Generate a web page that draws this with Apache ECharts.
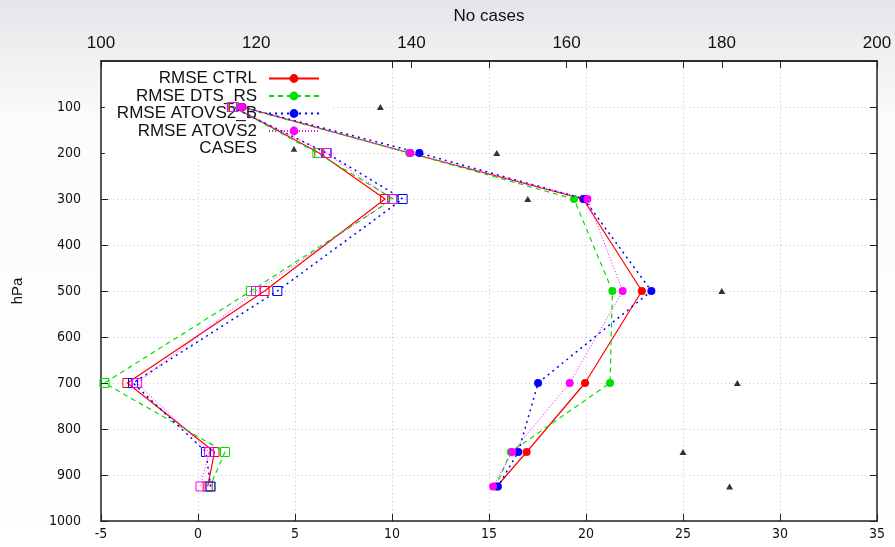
<!DOCTYPE html>
<html>
<head>
<meta charset="utf-8">
<title>RMSE / bias profiles</title>
<script src="https://cdn.jsdelivr.net/npm/echarts@6/dist/echarts.min.js"></script>
<style>
  html, body { margin: 0; padding: 0; }
  #chart { width: 895px; height: 547px; }
</style>
</head>
<body>
<div id="chart"></div>
<script>
// Pressure levels (hPa)
const levels = [100, 200, 300, 500, 700, 850, 925];

// RMSE per experiment
const rmseCtrl   = [2.3, 10.9, 19.85, 22.88, 19.95, 16.94, 15.4];
const rmseDts    = [2.2, 10.9, 19.38, 21.36, 21.24, 16.12, 15.35];
const rmseAtovsB = [2.25, 11.41, 19.9, 23.37, 17.53, 16.51, 15.46];
const rmseAtovs2 = [2.25, 10.95, 20.07, 21.89, 19.16, 16.2, 15.21];

// Bias per experiment
const biasCtrl   = [1.85, 6.25, 9.64, 3.43, -3.64, 0.85, 0.5];
const biasDts    = [1.8, 6.15, 10.07, 2.73, -4.82, 1.39, 0.62];
const biasAtovsB = [1.75, 6.63, 10.55, 4.09, -3.35, 0.41, 0.65];
const biasAtovs2 = [1.75, 6.6, 10.0, 2.99, -3.14, 0.57, 0.13];

// Number of cases per level (top axis)
const cases = [136, 151, 155, 180, 182, 175, 181];

const seriesNames = ['RMSE CTRL', 'RMSE DTS_RS', 'RMSE ATOVS2_B', 'RMSE ATOVS2'];
const casesName = 'CASES';

const pairs = (vals) => levels.map((p, i) => [vals[i], p]);

const narrow = "'Liberation Sans Narrow', 'DejaVu Sans Condensed', 'Liberation Sans', sans-serif";
const normal = "'Liberation Sans', Arial, sans-serif";

const styles = [
  { color: '#ff0000', type: 'solid', width: 1.2 },
  { color: '#00e000', type: [5, 4], width: 1.2 },
  { color: '#0000ff', type: [2, 4], width: 1.5 },
  { color: '#ff00ff', type: [1, 2], width: 1 }
];
const rmseSets = [rmseCtrl, rmseDts, rmseAtovsB, rmseAtovs2];
const biasSets = [biasCtrl, biasDts, biasAtovsB, biasAtovs2];

const series = [];
seriesNames.forEach((name, k) => {
  const st = styles[k];
  series.push({
    name: name,
    type: 'line',
    xAxisIndex: 0, yAxisIndex: 0,
    data: pairs(rmseSets[k]),
    symbol: 'circle',
    symbolSize: 8,
    itemStyle: { color: st.color },
    lineStyle: { color: st.color, type: st.type, width: st.width },
    z: 2 + k,
    silent: true
  });
  series.push({
    name: 'BIAS ' + name.slice(5),
    type: 'line',
    xAxisIndex: 0, yAxisIndex: 0,
    data: pairs(biasSets[k]),
    symbol: 'rect',
    symbolSize: 9,
    itemStyle: { color: 'rgba(0,0,0,0)', borderColor: st.color, borderWidth: 1 },
    lineStyle: { color: st.color, type: st.type, width: st.width },
    z: 2 + k,
    silent: true
  });
});
series.push({
  name: casesName,
  type: 'scatter',
  xAxisIndex: 1, yAxisIndex: 0,
  data: pairs(cases),
  symbol: 'triangle',
  symbolSize: [7, 6],
  itemStyle: { color: '#000' },
  z: 7,
  silent: true
});

const tickStyle = { lineStyle: { color: '#222', width: 1 } };
const lineStyleAxis = { onZero: false, lineStyle: { color: '#222', width: 1.5 } };
const gridDots = { show: true, lineStyle: { color: '#c4c4c4', type: [1, 3], width: 1 } };
const plain = (v) => String(v);

const chart = echarts.init(document.getElementById('chart'), null, { renderer: 'canvas' });
chart.setOption({
  animation: false,
  backgroundColor: {
    type: 'linear', x: 0, y: 0, x2: 0, y2: 1,
    colorStops: [
      { offset: 0, color: '#e3e5e8' },
      { offset: 0.1, color: '#eff0f2' },
      { offset: 0.22, color: '#fbfbfb' },
      { offset: 1, color: '#ffffff' }
    ]
  },
  grid: {
    left: 101, right: 18, top: 61, bottom: 26,
    show: true, backgroundColor: '#ffffff', borderWidth: 0
  },
  legend: {
    data: seriesNames.concat([{ name: casesName, icon: 'path://M0,0 M50,12 M21.5,9.5 L25,3 L28.5,9.5 Z' }]),
    orient: 'vertical',
    align: 'right',
    right: 565,
    top: 62,
    padding: [8, 10, 2, 12],
    itemWidth: 50,
    itemHeight: 11,
    itemGap: 0.5,
    backgroundColor: '#ffffff',
    selectedMode: false,
    z: 1,
    textStyle: {
      fontFamily: normal, fontSize: 17, color: '#111',
      lineHeight: 17, padding: [0, 7, 0, 0]
    }
  },
  xAxis: [
    {
      type: 'value', position: 'bottom',
      min: -5, max: 35, interval: 5,
      axisLine: lineStyleAxis,
      axisTick: Object.assign({ inside: true, length: 7 }, tickStyle),
      axisLabel: { fontFamily: narrow, fontSize: 14, color: '#111', margin: 6, formatter: plain },
      splitLine: gridDots
    },
    {
      type: 'value', position: 'top',
      min: 100, max: 200, interval: 20,
      name: 'No cases', nameLocation: 'middle', nameGap: 36,
      nameTextStyle: { fontFamily: normal, fontSize: 17, color: '#111' },
      axisLine: lineStyleAxis,
      axisTick: Object.assign({ inside: true, length: 7 }, tickStyle),
      axisLabel: { fontFamily: normal, fontSize: 17, color: '#111', margin: 9, formatter: plain },
      splitLine: { show: false }
    },
    {
      type: 'value', position: 'top',
      min: -5, max: 35, interval: 5,
      axisLine: lineStyleAxis,
      axisTick: Object.assign({ inside: true, length: 7 }, tickStyle),
      axisLabel: { show: false },
      splitLine: { show: false }
    }
  ],
  yAxis: [
    {
      type: 'value', position: 'left', inverse: true,
      min: 0, max: 1000, interval: 100,
      name: 'hPa', nameLocation: 'middle', nameGap: 76, nameRotate: 90,
      nameTextStyle: { fontFamily: normal, fontSize: 15, color: '#111' },
      axisLine: lineStyleAxis,
      axisTick: Object.assign({ inside: true, length: 7 }, tickStyle),
      axisLabel: { fontFamily: narrow, fontSize: 14, color: '#111', margin: 20, showMinLabel: false, formatter: plain },
      splitLine: gridDots
    },
    {
      type: 'value', position: 'right', inverse: true,
      min: 0, max: 1000, interval: 100,
      axisLine: lineStyleAxis,
      axisTick: Object.assign({ inside: true, length: 7 }, tickStyle),
      axisLabel: { show: false },
      splitLine: { show: false }
    }
  ],
  series: series
});
</script>
</body>
</html>
